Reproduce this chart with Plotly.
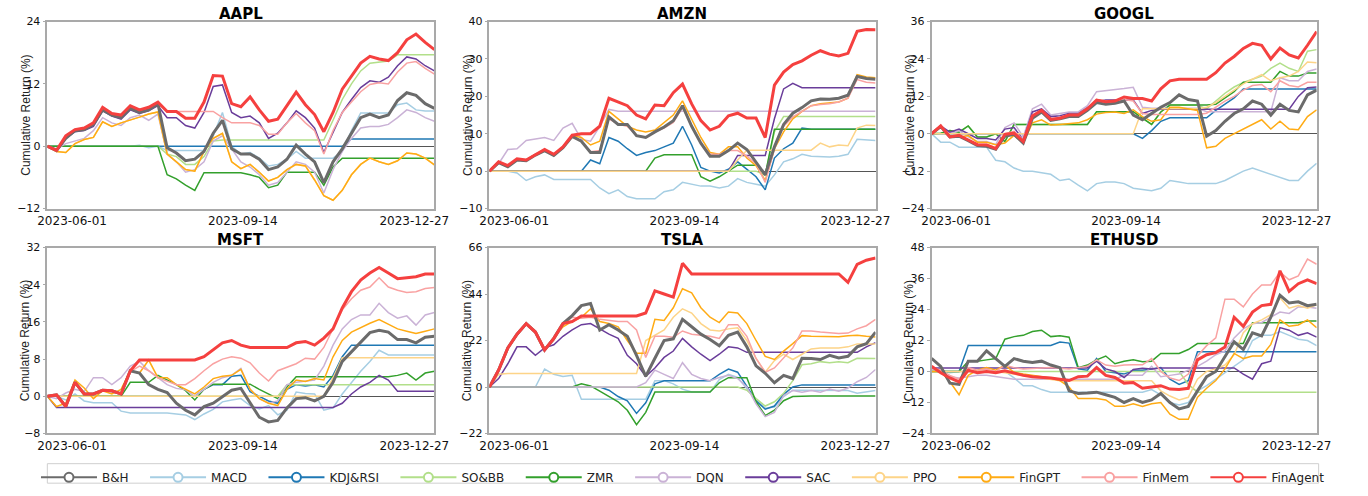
import pandas as pd
import plotly.graph_objects as go

# ---------------- categories / labels ----------------
STRATEGIES = ["B&H", "MACD", "KDJ&RSI", "SO&BB", "ZMR", "DQN", "SAC", "PPO", "FinGPT", "FinMem", "FinAgent"]
TICKERS = ["AAPL", "AMZN", "GOOGL", "MSFT", "TSLA", "ETHUSD"]
START_DATES = {"AAPL": "2023-06-01", "AMZN": "2023-06-01", "GOOGL": "2023-06-01",
               "MSFT": "2023-06-01", "TSLA": "2023-06-01", "ETHUSD": "2023-06-02"}
END_DATE = "2023-12-27"
N_POINTS = 43
Y_TICKS = {"AAPL": [-12, 0, 12, 24], "AMZN": [-10, 0, 10, 20, 30, 40],
           "GOOGL": [-24, -12, 0, 12, 24, 36], "MSFT": [-8, 0, 8, 16, 24, 32],
           "TSLA": [-22, 0, 22, 44, 66], "ETHUSD": [-24, -12, 0, 12, 24, 36, 48]}
X_TICK_TEXT = {t: [START_DATES[t], "2023-09-14", END_DATE] for t in TICKERS}

# ---------------- AAPL ----------------
AAPL_BH = [0,-0.8,1.5,3,3.2,4.2,7,6,5.5,7.3, 6.5,7,8.2,-0.3,-1.3,-2.8,-2.5,-1,2.5,5, -0.5,-1.5,-1.5,-2.5,-4.5,-4,-2.5,0.2,-1.5,-3, -7,-3,-0.5,2.5,5.5,6.2,5.5,6,8.8,10.3, 9.8,8.2,7.3]
AAPL_MACD = [0,0,0,0,0,0,0,0,0,0, 0.2,-0.3,0,-0.8,-0.8,-0.8,-0.8,-0.8,2,6.5, 0,-1.5,-1.2,-2.3,-3.8,-3.5,-2.5,-1,-2.3,-2.3, -2.3,-2.3,-1,3,6.4,6.4,6.4,6.4,8,8.3, 7,6.8,6.8]
AAPL_KDJ = [0,0,0,0,0,0,0,0,0,0, 0,0,0,0,0,0,0,0,0,0, 0,0,0,0,0,0,0,0,0,0, 0,0,0,1.4,1.4,1.4,1.4,1.4,1.4,1.4, 1.4,1.4,1.4]
AAPL_SOBB = [0,0,0,0,0,0,0,0,0,0, 0,0,0,-1.5,-2,-3.5,-3.5,-2,1,1.2, 1.2,1.2,1.2,1.2,1.2,1.2,1.2,1.2,1.2,1.2, 1.2,5,9,12,14.5,16,16.2,16.4,17.6,17.6, 17.6,17.6,17.6]
AAPL_ZMR = [0,0,0,0,0,0,0,0,0,0, 0,0,0,-5.5,-6.3,-7.5,-8.5,-5.1,-5.1,-5.1, -5.1,-5.1,-5.5,-6,-8,-7.5,-5,-5,-5,-5, -7.5,-4,-2.3,-2.3,-2.3,-2.3,-2.3,-2.3,-2.3,-2.3, -2.3,-2.3,-2.3]
AAPL_DQN = [0,-0.5,0.5,1,1.5,3,5.5,4.5,4,5.5, 6,5,6.2,-1.5,-3,-5,-4.5,-3,1,2, -0.5,-3,-4,-5.5,-7.5,-7,-5,-3,-3.5,-5, -9,-4.5,-1,1.5,3.5,3.8,3.8,4.2,5.5,7, 6.5,5.5,4.8]
AAPL_SAC = [0,-1,1.5,2.8,3,3.8,6.8,5.8,5.2,7, 6.3,6.8,7.8,5.5,5.5,4,3.5,6.5,11.5,11.8, 6.5,5.5,5.8,4.5,1.5,2.5,4.5,6.8,5.5,3.5, -1.2,2.5,6.5,9,11.3,12.6,12.3,13.3,15.5,17.2, 16.8,15.5,14.5]
AAPL_PPO = [0,-1,-1.2,0.5,1.3,1.7,4.7,3.8,4.5,5, 5.6,6.2,6.6,-1.5,-3,-4.5,-4.8,-1,1.5,2.5, -3,-4.3,-3.5,-5,-6.7,-6,-4.5,-3.5,-3.8,-6.5, -9.5,-10.4,-8.5,-5.5,-3.5,-2.3,-3,-3.5,-2.8,-1.3, -1.5,-2.3,-3.6]
AAPL_FINGPT = [0,-1,-1.2,0.5,1.3,1.7,4.7,3.8,4.5,5, 5.6,6.2,6.6,-1.5,-3,-4.5,-4.8,-1,1.5,2.5, -3,-4.3,-3.5,-5,-6.7,-6,-4.5,-3.5,-3.8,-6.5, -9.5,-10.4,-8.5,-5.5,-3.5,-2.3,-3,-3.5,-2.8,-1.3, -1.5,-2.3,-3.6]
AAPL_FINMEM = [0,-0.8,1.8,3,3.3,4.3,7.2,6,5.6,7.5, 6.7,7.2,8.3,6.7,6.7,6.7,6.7,6.7,6.7,5.5, 4.5,4.5,4.5,4,2.3,2.3,4.5,6.3,4.5,3, -1.5,3,6.5,8.5,10.5,11.9,12.2,12,14.3,16, 16.3,15,13.9]
AAPL_FINAGENT = [0,-0.8,2,3.2,3.5,4.5,7.5,6.3,6,7.8, 7,7.5,8.5,6.7,6.7,5.4,5.4,8.5,13.6,13.5, 8.2,7.6,9.5,7,4.8,5.2,7.8,10.4,8,6.1, 2.8,6.5,11,13.6,16,17.3,16.8,16.5,18,20.5, 21.6,20,18.6]

# ---------------- AMZN ----------------
AMZN_BH = [0,2.3,1.2,3,2.8,4.3,5.5,4.2,6.3,9.3, 8,5,5,14.5,12.5,12.5,9.5,9,10.5,11.8, 13.5,17.5,12,7.5,4,4,5.5,7.5,5.8,2.5, -1,6.5,12.5,15.5,17,18.8,19.3,19.2,19.5,20.3, 25.3,24.8,24.6]
AMZN_MACD = [0,0,0,-0.5,-2.5,-1.5,-1,-2.2,-2.2,-2.2, -2.2,-2.2,-4.5,-6,-5,-6.8,-7.4,-7.4,-7.4,-5.5, -5,-3,-3.5,-4,-4,-4.5,-4,-2,-3,-3.5, -4,-1,2.5,3.3,4.5,4,3.8,3.8,4,4.5, 8.5,8.4,8.2]
AMZN_KDJ = [0,0,0,0,0,0,0,0,0,0, 0,3,2,9,8,6,4.2,5,5.5,6.5, 7.5,12,7,1,0,-0.5,0.5,2.5,0.5,-1.5, -5,3.5,6,7.5,11.5,11.2,11.2,11.2,11.2,11.2, 11.2,11.2,11.2]
AMZN_SOBB = [0,0,0,0,0,0,0,0,0,0, 0,0,0,0,0,0,0,0,0,0, 0,0,0,0,0,0,0,0,0,0, -1,10.5,14.6,14.6,14.6,14.6,14.6,14.6,14.6,14.6, 14.6,14.6,14.6]
AMZN_ZMR = [0,0,0,0,0,0,0,0,0,0, 0,0,0,0,0,0,0,0,3.5,4.4, 4.4,4.4,4.4,-1.5,-2.7,-1.5,0,1.6,1.6,1.6, -1,11.2,11.2,11.2,11.2,11.2,11.2,11.2,11.2,11.2, 11.2,11.2,11.2]
AMZN_DQN = [0,2,5.8,6,8.2,8.6,9,8.2,11.5,12.8, 8.5,8,12,16.5,16,16,16,16,16,16, 16,16,16,16,16,16,16,16,16,16, 16,16,16,16,16,16,16,16,16,16, 16,16,16]
AMZN_SAC = [0,0,0,0,0,0,0,0,0,0, 0,0,0,0,0,0,0,0,0,0, 0,0,0,0,0,0,0,4.2,4.2,4.2, 4.2,14,22,23.5,22.3,22.3,22.3,22.3,22.3,22.3, 22.3,22.3,22.3]
AMZN_PPO = [0,0,0,0,0,0,0,0,0,0, 0,0,0,0,0,0,0,0,0,0, 0,0,0,0,0,0,0,3,5.6,5.6, 5.6,5.6,5.6,5.6,5.6,5.6,7.5,6.5,7,6.8, 11.5,12.3,12.2]
AMZN_FINGPT = [0,2.4,1.3,3.2,3,4.5,5.6,4.3,6.4,9.5, 9,7,8,16,14,12,11,10.5,11,13, 15,18.8,14,9,5,4.5,6.5,6.5,3.5,1.5, -2.5,6,10.5,14,16,17.5,18,18.2,18.5,19.5, 25.8,25.2,25]
AMZN_FINMEM = [0,2.3,1.2,3,2.8,4.3,5.5,4.2,6.3,9.2, 8,5.2,5.5,14,12.5,12,9.5,9,10.5,11.5, 13,17,12,7.5,4.5,4.5,5.5,5.5,4,2, -3,6,12,14.5,16,17.5,17.8,18,18.5,19.5, 24.5,23.8,23.6]
AMZN_FINAGENT = [0,2.5,1.5,3.3,3,4.5,5.8,4.5,6.5,9.6, 10,10,12,19.5,18.5,17.5,15,14,17.7,17.5, 21,23.3,18,13.5,11,12,14.8,15.5,14.2,14.2, 9,23,26.5,28.5,29.5,31,32.2,31.3,30.8,31.5, 37.4,37.9,37.8]

# ---------------- GOOGL ----------------
GOOGL_BH = [0,2.3,-1,-0.8,-2.2,-3.8,-4,-5,-0.8,-0.2, -3,5,7,4.3,4.8,5.5,5.5,7.5,10,9.5, 9.8,10.5,6,4.5,6.5,8.5,10,12.5,11,10.5, -0.8,1,4,6.5,8,10.5,9.5,6,9.5,7.5, 7,12.5,14]
GOOGL_MACD = [0,-2.7,-2.7,-4.3,-4.3,-4.3,-4.3,-8.5,-9,-11, -12,-12,-12.5,-13,-15,-14.5,-16.5,-18.3,-16,-15.5, -15.5,-16,-17.5,-17.8,-18.3,-17.5,-15,-15.5,-16,-16, -16,-16,-15,-13.5,-12,-11,-12,-13,-14,-15, -15,-12,-9.5]
GOOGL_KDJ = [0,0,0,0,0,0,0,0,0,0, 0,0,0,0,0,0,0,0,0,0, 0,0,0,-1.5,1,4,5.1,5.1,5.1,5.1, 5.1,7.5,9.5,11.5,14.4,14.4,14.4,14.4,14.4,14.4, 14.4,14.4,14.4]
GOOGL_SOBB = [0,0.2,1,0.5,2.5,-1,-1,0,-2.5,3, 3,3,3,3,3,3,3,3,7.1,7.1, 7.1,7.1,7.1,5,3,7,9.2,9.2,9.2,9.2, 8,10.5,13,15,16.5,17.5,18.5,21,22.7,21, 20,26.5,27]
GOOGL_ZMR = [0,0.2,1,0.5,2.5,-1,-1,0,-2.5,3, 3,3,3,3,3,3,3,3,7.1,7.1, 7.1,7.1,7.1,5,3,7,9.2,9.2,9.2,9.2, 9.2,9.5,11.5,13.5,16.5,16.5,16.5,16.5,20,18.5, 18.5,19.5,19.5]
GOOGL_DQN = [0,2.5,0,1,-1,-2.5,-2.5,-3.5,2,3.5, -1,8,9.5,6,6.5,7,7,9,13.5,13.8, 14,14.5,14.9,8.5,8.2,8.2,8.2,8.2,8.2,8.2, 7.1,7.1,7.1,7.1,7.1,7.1,7.1,7.1,18,17, 17,20,20.8]
GOOGL_SAC = [0,2.5,0.5,1.5,0,-1.5,-1.5,-2,1.5,2, -2,7,8,5.5,5.8,6.5,6.5,8.5,10.3,10.8, 10.8,10.8,10.8,6.5,7.5,7.9,7.9,7.9,7.9,7.9, 7.9,7.9,7.9,7.9,7.9,7.9,7.9,7.9,7.9,7.9, 12,14.8,15]
GOOGL_PPO = [0,0,0,0,0,0,0,0,0,0, 0,0,0,0,0,0,0,0,0,0, 0,0,0,8,8,8,8,8,8,8, 8.5,10,12,14,16,17.5,19,17,18,18.5, 20,23,22.8]
GOOGL_FINGPT = [0,2.3,-0.6,-1.1,-0.6,-2.7,-2.7,-3.5,-3,-0.5, -3,3.5,4.5,2.8,3,3.3,3.5,4.5,6.3,6.8, 7,6.5,7.7,5.5,4,4.5,8.5,8.5,8,7.5, -4.5,-4,-1.5,0,1.5,2.8,4.5,1.5,4,1.5, 1.3,5.5,7.7]
GOOGL_FINMEM = [0,2.5,-0.8,-0.5,-2,-3.3,-3.4,-4.5,0,0.8, -2,6,7.5,4.8,5.3,6.2,6.2,8.2,11,10.5, 10.5,11,10.5,6.5,6.2,6.2,6.2,6.2,6.2,6.2, 6.6,8.5,10.5,12,14,15.5,15.8,13.5,17,15.5, 15,16.5,16.5]
GOOGL_FINAGENT = [0,2.5,-1,-0.5,-2,-3.5,-3.6,-4.8,-0.2,0.2, -2.5,5.7,7.5,4.6,5,6,6,8,10.8,10.3, 10.5,11.8,11.3,11.3,10.5,14.4,17,17.5,17.5,17.5, 17.5,19.6,22.7,24.8,27.4,29,28.4,24,27.5,25.3, 24.3,28.4,32.8]

# ---------------- MSFT ----------------
MSFT_BH = [0,0.3,-2.2,3,0.5,0.5,1.3,1.2,0.5,5.5, 5,2.5,1.5,0.8,-1.5,-3,-4,-2.2,-1.5,0, 1.3,1.7,-1.5,-4.5,-5.5,-5.2,-2.5,-0.5,-0.3,-1, 0,3,7.5,9.5,11.5,13.7,14.2,13.8,12.2,12.2, 11.5,12.7,12.9]
MSFT_MACD = [0,0,-0.8,0.5,-1,-1.4,-1.4,-1.4,-3.2,-3.6, -3.6,-3.6,-3.6,-3.6,-3.8,-4,-5,-3.8,-2.8,-1.2, -0.8,-0.5,-2,-2.7,-2,-4,-3,0.9,0.6,0.5, -3,-2.5,0.5,3,5.4,7.5,9.9,8.9,8.9,8.9, 8.9,8.9,8.9]
MSFT_KDJ = [0,0,0,0,0,0,0,0,0,0, 0,0,0,0,0,0,0,1.5,2.5,2.5, 4.3,4.5,1,0,-1,-1.5,1.5,2.5,2.2,2.5, 2,4.5,8.5,11,11,11,11,11,11,11, 11,11,11]
MSFT_SOBB = [0,0,0,0,0,0,0,0,0,0, 0,0,0,0,0,0,0,0,0,0, 0,0,0,0,0,0,2.5,2.5,2.5,2.5, 2.5,2.5,2.5,2.5,2.5,2.5,2.5,2.5,2.5,2.5, 2.5,2.5,2.5]
MSFT_ZMR = [0,0,0,0,0,0,0,0,0,3, 3,3,4.5,3.5,2.5,1.2,-0.8,1.5,2.6,2.6, 2.6,2.6,2.6,1.5,0.5,-0.5,2,4.2,4.2,4.2, 4.2,4.2,4.2,4.2,4.2,4.2,4.2,4.2,4.5,5, 3.5,5,5.4]
MSFT_DQN = [0,-0.5,0.7,1.5,1,4,4,2.5,4,6.5, 7.5,5.5,4,2.5,1.7,1.4,0,1.5,3,4, 4.5,6,1.5,-0.5,-1.5,-1,2.5,3,3.2,3.5, 6.5,11,14.5,16.5,17.5,17.5,20,18,16.8,17.3, 15.3,17.5,18]
MSFT_SAC = [0,-2.4,-2.4,-2.4,-2.4,-2.4,-2.4,-2.4,-2.4,-2.4, -2.4,-2.4,-2.4,-2.4,-2.4,-2.4,-2.4,-2.4,-2.4,-2.4, -2.4,-2.4,-2.4,-2.4,-2.4,-2.4,-2.4,-2.4,-2.4,-2.4, -2.4,-2.4,-1.5,0.5,2,3,4.5,3.5,1.1,1.1, 1.1,1.1,1.1]
MSFT_PPO = [0,0,0,0,0,0,0,0,0,0, 0,0,0,0,0,0,0,0,0,0, 0,0,0,0,0,0,0,0,0,0, 0,4,8.3,8.3,8.3,8.3,8.3,8.3,8.3,8.3, 8.3,8.3,8.3]
MSFT_FINGPT = [0,-2.2,-1.5,3.5,1.8,-0.5,1.2,0.5,1.5,5.5, 5,7.8,4,4,2.5,1.5,0.5,2,3.8,4.3, 4.5,5.8,1.5,-0.5,-1.5,-2,1.5,3.5,3.2,3.8, 3.5,8.5,12,13.8,14.8,15.7,16.5,15.5,14.5,14, 13.5,14,14.5]
MSFT_FINMEM = [0,0.2,-2,2.8,0.5,0.5,1.2,1,0.5,5.3, 6.5,5.5,4,3.3,2.5,2.5,3.8,5.5,7,8, 8.5,8.2,7.2,5,3.3,5.5,6.3,7,8.2,8, 10.5,14.5,18.6,21,22.8,23.5,25.5,23.5,22.8,22.3, 22.5,23.2,23.4]
MSFT_FINAGENT = [0,0.3,-2.2,3,0.5,0.5,1.3,1.2,0.5,5.5, 7.8,7.8,7.8,7.8,7.8,7.8,7.8,8.5,10,11.5, 12,11,10.5,10.5,10.5,10.5,10.5,11.5,11.8,11, 12.5,14.5,19,22.5,25,26.5,27.7,26.5,25.3,25.5, 25.7,26.3,26.3]

# ---------------- TSLA ----------------
TSLA_BH = [0,8,18.5,25,30,26,17.5,23,30,33.8, 38.5,39.5,27,29.5,27,24,15,5,13.6,22, 22.8,32,28.5,25,22.5,19.5,24.5,26,19,10, 6.5,2,5.5,4,13.6,13.5,13,15,13.7,14.5, 19,20.5,25.9]
TSLA_MACD = [0,0,0,0,0,0,8.5,6,5,5.5, -5.8,-5.8,-5.8,-5.8,-5.8,-5.8,-5.8,-5.8,3,3, 1.5,-1,-2.4,-2.4,-2.4,3.5,6,4.5,-0.5,-6, -10,-9.5,-4.5,-1.5,-1.5,-1.5,-1.7,-1.7,-1.7,-1.7, -3,-2.5,-1.7]
TSLA_KDJ = [0,0,0,0,0,0,0,0,0,0, 0,0,0,-1.5,-4.5,-6.5,-12.5,-7.5,1.5,2.9, 2.9,2.9,2.9,2.9,2.9,6,8.5,7,0,-6.5, -10.5,-9,-3.5,0,1,1,1,1,1,1, 1,1,1]
TSLA_SOBB = [0,0,0,0,0,0,0,0,0,0, 0,0,0,0,0,0,0,0,0,0, 0,0,0,0,0,0,0,0,-1.5,-5.5, -9,-7,-3,3,10.5,11,12,11.5,12,11.5, 13.6,13.5,13.5]
TSLA_ZMR = [0,0,0,0,0,0,0,0,0,0, 1.5,0.5,-2,-4.5,-7,-11,-17.8,-12,-2.4,-2.4, -2.4,-2.4,-2.4,-2.4,-2.4,2,4.4,4.4,4.4,-7, -13.5,-11,-6.5,-4.5,-4.3,-4.3,-4.3,-4.3,-4.3,-4.3, -4.3,-4.3,-4.3]
TSLA_DQN = [0,0,0,0,0,0,0,0,0,0, 0,0,0,0,0,0,0,2,8,6, 4,11.5,6,4,3,4.5,5.5,4,0,-8, -14,-12,-4,-1.7,-2.5,-1.7,-2.5,-1,-2,-0.5, 2.5,4.5,8.3]
TSLA_SAC = [0,4,11,19,19,15,18.5,20,24,27, 29.5,30,27.5,25,23,15,11,5,9,14, 17,23,19,15.5,12.5,15.5,19,18.5,16.4,16.4, 16.4,16.4,16.4,16.4,16.4,16.4,16.4,16.4,16.4,16.4, 16.4,19,21]
TSLA_PPO = [0,6,6.4,6.4,6.4,6.4,6.4,6.4,6.4,6.4, 6.4,6.4,6.4,6.4,6.4,6.4,6.4,22,24.5,27, 33,37,35,30,27,26.5,27.5,28,22,13.5, 7,12.5,15.5,13,15.5,18,18.5,18.5,18.5,19, 20.4,20.4,20.4]
TSLA_FINGPT = [0,8,18.5,25,30,26,18,23,28.5,31, 33,37,31,30,28.5,22,16,16,32,31.5, 37.5,46.5,44.5,37.5,33,30.5,35.5,35,30,22, 14.5,13,17,20.5,24.3,24,24,23.8,23.8,24.3, 24.5,24,23.6]
TSLA_FINMEM = [0,8,18,24.5,29.5,25.5,17.5,22,29.5,33, 32.5,33,32,31.5,31,31,27,14,24,24, 23.5,26.5,25,24.5,24,23,29.5,29.5,24,13.5, 7,9,13.5,18.5,26.5,26.5,26,25.5,25.3,25.5, 27.5,29,32]
TSLA_FINAGENT = [0,8,18.5,25,30,26,17.5,23,30,31, 33.6,33.6,33.6,33.6,33.6,33.6,33.6,35,45.5,44, 42.5,58.5,53.5,53.5,53.5,53.5,53.5,53.5,53.5,53.5, 53.5,53.5,53.5,53.5,53.5,53.5,53.5,53.5,53.5,49.5, 58,60,61]

# ---------------- ETHUSD ----------------
ETH_BH = [5.1,2,-4.5,-5,4,4,8,5,2,5, 4,3.5,4,2.5,1.5,-7.5,-8.5,-8.3,-8,-9, -10,-12,-10.5,-12,-11,-8.5,-12,-14.5,-13.5,-7.5, -2,0,6,11.5,8.5,15,13.8,21,29.5,26.5, 27,25.5,26]
ETH_MACD = [0,0.5,-0.5,0,0,0,0,0,0,-2.5, -5.5,-5.5,-7,-8,-8,-8,-8,-8,-8,-8, -8,-8,-8,-8,-7,-9,-12,-13,-12,-7.5, -5.5,-3,-0.5,2,4.5,12,14,14,15.5,14, 12.5,12,10]
ETH_KDJ = [0,0,0,0,10.1,10.1,10.1,10.1,10.1,10.1, 10.1,10.1,10.1,10.1,11.4,11,1,0.5,5,0, -0.5,-1,0.5,0.5,1,1.5,-3,-5,-3.6,7.6, 7.6,7.6,7.6,7.6,7.6,7.6,7.6,7.6,7.6,7.6, 7.6,7.6,7.6]
ETH_SOBB = [0,0,0,0,0,0,0,0,0,0, 0,0,0,0,0,0,0,0,0,0, 0,0,0,0,0,0,0,0,-5,-8, -8,-8,-8,-8,-8,-8,-8,-8,-8,-8, -8,-8,-8]
ETH_ZMR = [0,0,0,0,4,4,4.5,5,12.5,13.5, 14,15.5,16,13.5,13.8,13.3,1.5,2.5,4.5,6, 3,4,4.5,3.8,4,7,7,7,8.5,10.8, 10.8,10.8,10.8,10.8,10.8,18.9,18.9,18.9,18.9,18.9, 18.9,19.5,19.5]
ETH_DQN = [1,0,-2,-2.5,-2,-1.5,-1.5,-2,-2.5,-3, -3,-3,-3,-3,-3,-3,-3,-3,-3,-3, -3,-1.5,-1.5,-1.5,2,-2,-1.5,-1,0.5,2, 4,6.5,8,13,16.5,18.5,19,21,23,22.5, 25,25,24.5]
ETH_SAC = [1.4,1.4,1.4,1.4,1.4,1.4,1.4,1.4,1.4,1.4, 1.4,1.4,1.4,1.4,1.4,1.4,1.4,1.4,4,1, 0,-2.3,0.8,1.3,1,1.4,1.4,1.4,1.4,1.4, 1.4,1.4,1.4,1.4,-1,-3,3,4,17,16, 14,15,13.3]
ETH_PPO = [0,0,0,0,0,0,0,0,-0.5,-1, -1.5,-2,-2.5,-3,-3.6,-3.6,-3.6,-3.6,-3.6,-3.6, -3.6,-3.6,-3.6,-3.6,-3.6,-7.5,-9.5,-11,-10,-3, 0,1,2.5,6.5,15,18.5,20,22,28.5,24.5, 25.5,24.5,25.8]
ETH_FINGPT = [0,0,-4,-9,-1.5,0.5,1.5,0.5,2.5,-0.3, -1,-1.5,-1.8,-2.5,-3.5,-6,-10.5,-10.5,-10.5,-11, -13.5,-13.5,-12.5,-13.5,-12.5,-12,-16.5,-18.5,-18.5,-10, -6.5,-3.5,1,7,5,6,6,10.5,20,17.5, 18,20,17]
ETH_FINMEM = [1.5,0.5,-1.5,-3,1.5,0.5,1,0,2.5,1.5, 1,1.2,1.5,1.5,1.3,1,1.5,2,4.5,2.5, 2,2.5,2.6,2.6,5,0,-2.5,-3.5,-1,6, 10,13,28,28,25,30,33.5,33.5,38.5,35.5, 37,43.5,41.5]
ETH_FINAGENT = [2,-0.5,-2.5,-4,0.5,-0.5,0,-0.5,0.3,-0.5, -1.5,-2,-2.2,-2.5,-3,-3.5,-2,-1.8,1.5,-1.5, -2.3,-4.5,-4.3,-6.5,-6,-5.5,-6.8,-7,-6.5,4.5, 6.5,7.3,9.5,21,17.5,23,25.5,26,39,31, 34,35.5,34]

DATA = {
    "AAPL": [AAPL_BH, AAPL_MACD, AAPL_KDJ, AAPL_SOBB, AAPL_ZMR, AAPL_DQN, AAPL_SAC, AAPL_PPO, AAPL_FINGPT, AAPL_FINMEM, AAPL_FINAGENT],
    "AMZN": [AMZN_BH, AMZN_MACD, AMZN_KDJ, AMZN_SOBB, AMZN_ZMR, AMZN_DQN, AMZN_SAC, AMZN_PPO, AMZN_FINGPT, AMZN_FINMEM, AMZN_FINAGENT],
    "GOOGL": [GOOGL_BH, GOOGL_MACD, GOOGL_KDJ, GOOGL_SOBB, GOOGL_ZMR, GOOGL_DQN, GOOGL_SAC, GOOGL_PPO, GOOGL_FINGPT, GOOGL_FINMEM, GOOGL_FINAGENT],
    "MSFT": [MSFT_BH, MSFT_MACD, MSFT_KDJ, MSFT_SOBB, MSFT_ZMR, MSFT_DQN, MSFT_SAC, MSFT_PPO, MSFT_FINGPT, MSFT_FINMEM, MSFT_FINAGENT],
    "TSLA": [TSLA_BH, TSLA_MACD, TSLA_KDJ, TSLA_SOBB, TSLA_ZMR, TSLA_DQN, TSLA_SAC, TSLA_PPO, TSLA_FINGPT, TSLA_FINMEM, TSLA_FINAGENT],
    "ETHUSD": [ETH_BH, ETH_MACD, ETH_KDJ, ETH_SOBB, ETH_ZMR, ETH_DQN, ETH_SAC, ETH_PPO, ETH_FINGPT, ETH_FINMEM, ETH_FINAGENT],
}

# ---------------- styles ----------------
COLORS = {"B&H": "#6b6b6b", "MACD": "#a6cee3", "KDJ&RSI": "#1f78b4", "SO&BB": "#b2df8a",
          "ZMR": "#33a02c", "DQN": "#cab2d6", "SAC": "#6a3d9a", "PPO": "#fdd488",
          "FinGPT": "#ffab14", "FinMem": "#f9a2a2", "FinAgent": "#f5403f"}
WIDTHS = {s: 1.5 for s in STRATEGIES}
WIDTHS["B&H"] = 3.0
WIDTHS["FinAgent"] = 3.0
DRAW_ORDER = ["MACD", "KDJ&RSI", "SO&BB", "ZMR", "DQN", "SAC", "PPO", "FinGPT", "FinMem", "B&H", "FinAgent"]

W, H = 1368, 496
COL_PX = [(38, 432), (488, 881), (938, 1330)]
ROW_PX = [(16, 208), (248, 439)]
TICK_FRAC = [0.064, 0.505, 0.948]
FRAME = "#a9a9a9"
FONT = "DejaVu Sans"
LEGEND_BOX = (38, 470, 1332, 490)  # left, top, right, bottom (px)
NBSP = "\u00a0"

fig = go.Figure()
layout = dict(width=W, height=H, margin=dict(l=0, r=0, t=0, b=0), autosize=False,
              paper_bgcolor="white", plot_bgcolor="white", font=dict(family=FONT, color="#222"),
              showlegend=True, annotations=[], shapes=[])

for k, tk in enumerate(TICKERS):
    r, c = divmod(k, 3)
    x0p, x1p = COL_PX[c]
    y0p, y1p = ROW_PX[r]
    ax = "" if k == 0 else str(k + 1)
    start = pd.Timestamp(START_DATES[tk])
    end = pd.Timestamp(END_DATE)
    dates = pd.date_range(start, end, periods=N_POINTS)
    series = dict(zip(STRATEGIES, DATA[tk]))
    for s in DRAW_ORDER:
        fig.add_trace(go.Scatter(x=dates, y=series[s], mode="lines", name=s, showlegend=False,
                                 line=dict(color=COLORS[s], width=WIDTHS[s]),
                                 xaxis="x" + ax, yaxis="y" + ax, hoverinfo="skip"))
    tickvals = [(start + (end - start) * f).strftime("%Y-%m-%d %H:%M:%S") for f in TICK_FRAC]
    yt = Y_TICKS[tk]
    layout["xaxis" + ax] = dict(domain=[x0p / W, x1p / W], anchor="y" + ax, type="date",
                                range=[start, end], tickvals=tickvals, ticktext=X_TICK_TEXT[tk],
                                showgrid=False, zeroline=False, showline=True, mirror=True,
                                linecolor=FRAME, linewidth=1.5, ticks="",
                                tickfont=dict(family=FONT, size=12, color="#111"))
    layout["yaxis" + ax] = dict(domain=[1 - y1p / H, 1 - y0p / H], anchor="x" + ax,
                                range=[yt[0] - 1e-6, yt[-1] + 1e-6], tickvals=yt,
                                showgrid=False, zeroline=True, zerolinecolor="#555555", zerolinewidth=1,
                                showline=True, mirror=True, linecolor=FRAME, linewidth=1.5,
                                ticks="outside", ticklen=3, tickcolor=FRAME,
                                tickfont=dict(family=FONT, size=11, color="#111"))
    layout["annotations"].append(dict(text="<b>%s</b>" % tk, x=(x0p + x1p) / 2 / W,
                                      y=1 - (y0p - 8) / H, xref="paper", yref="paper",
                                      xanchor="center", yanchor="middle", showarrow=False,
                                      font=dict(family=FONT, size=15, color="#000")))
    layout["annotations"].append(dict(text="Cumulative Return (%)", textangle=-90,
                                      x=(x0p - 22) / W, y=1 - (y0p + y1p) / 2 / H,
                                      xref="paper", yref="paper", xanchor="center", yanchor="middle",
                                      showarrow=False,
                                      font=dict(family="Liberation Sans", size=12, color="#222")))

# legend entries (line with open circle)
for i, s in enumerate(STRATEGIES):
    label = s if i == len(STRATEGIES) - 1 else s + NBSP * 3
    fig.add_trace(go.Scatter(x=[None], y=[None], mode="lines+markers", name=label, showlegend=True,
                             line=dict(color=COLORS[s], width=2),
                             marker=dict(symbol="circle", size=9, color="white",
                                         line=dict(color=COLORS[s], width=2))))

lx0, ly0, lx1, ly1 = LEGEND_BOX
layout["shapes"].append(dict(type="rect", xref="paper", yref="paper",
                             x0=lx0 / W, x1=lx1 / W, y0=1 - ly1 / H, y1=1 - ly0 / H,
                             line=dict(color="#cfcfcf", width=1), fillcolor="white", layer="below"))
layout["legend"] = dict(orientation="h", x=(lx0 + lx1) / 2 / W, xanchor="center",
                        y=1 - ((ly0 + ly1) / 2 + 4) / H, yanchor="middle",
                        borderwidth=0, bgcolor="rgba(0,0,0,0)", itemwidth=56,
                        font=dict(family=FONT, size=12, color="#222"), traceorder="normal")
fig.update_layout(**layout)
fig.write_html("out.html", config={"displayModeBar": False},
               post_script="document.body.style.margin='0';document.body.style.overflow='hidden';")
